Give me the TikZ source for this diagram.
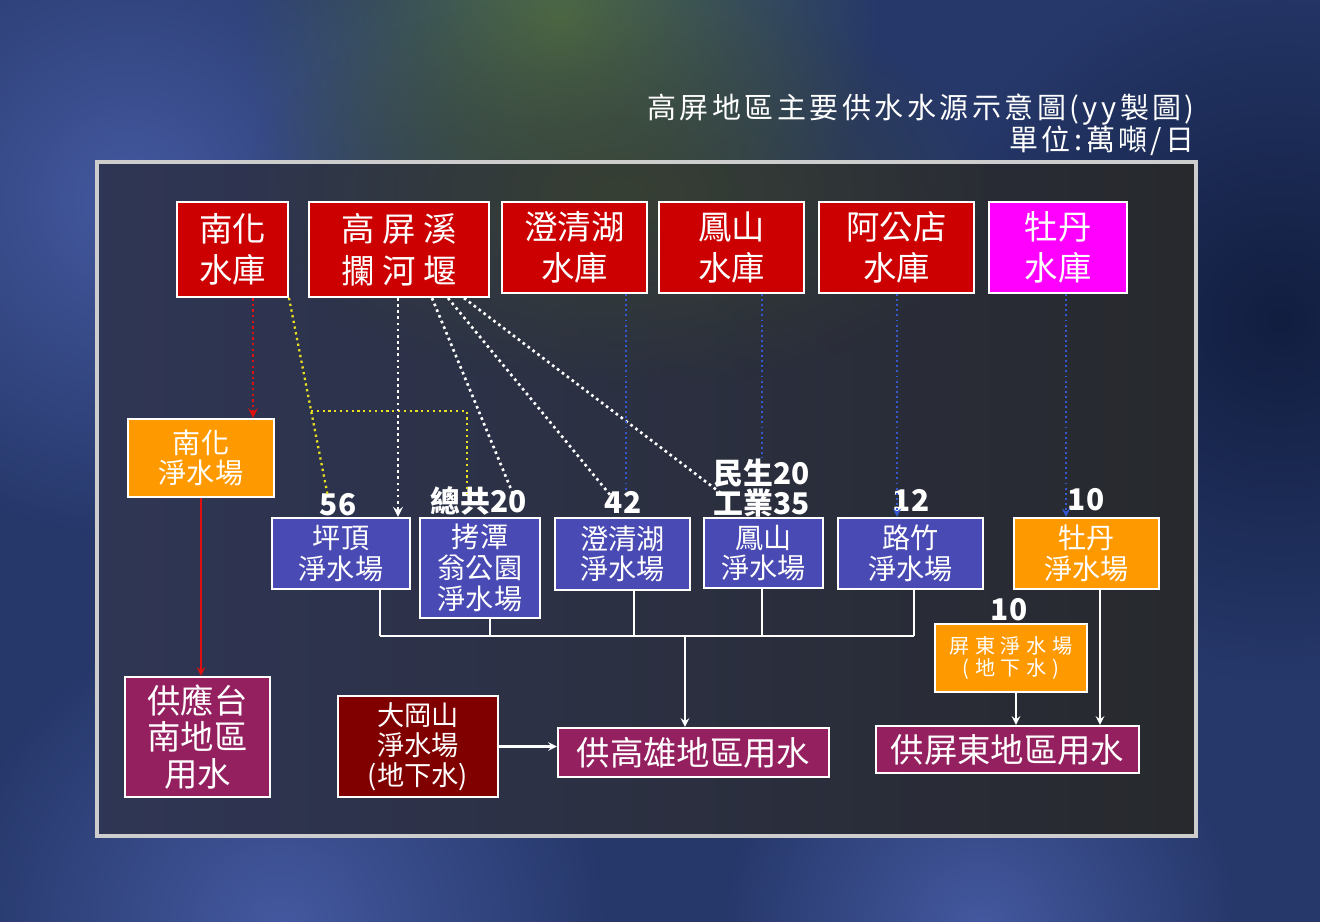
\documentclass[tikz,border=0pt]{standalone}
\usepackage{fontspec}
\setmainfont{Noto Sans CJK TC}
\newfontfamily\widecjk[LetterSpace=22]{Noto Sans CJK TC}
\newfontfamily\titlecjk[LetterSpace=12]{Noto Sans CJK TC}
\newfontfamily\gwcjk[LetterSpace=28]{Noto Sans CJK TC}
\usepackage{tikz}
\usetikzlibrary{shapes,arrows,positioning,calc,fadings}

\definecolor{bgbase}{HTML}{26386A}
\definecolor{bgblue}{HTML}{4459A0}
\definecolor{bggreen}{HTML}{4E6A45}
\definecolor{bgdark}{HTML}{121E40}
\definecolor{framel}{HTML}{2F3655}
\definecolor{framer}{HTML}{27292D}
\definecolor{framegreen}{HTML}{3A4430}
\definecolor{framegray}{HTML}{CDCDCD}
\definecolor{resred}{HTML}{CC0000}
\definecolor{resmag}{HTML}{FF00FF}
\definecolor{plantblue}{HTML}{4A4AB4}
\definecolor{plantorange}{HTML}{FF9900}
\definecolor{usepurple}{HTML}{952060}
\definecolor{dkred}{HTML}{800000}
\definecolor{rivred}{HTML}{E01010}
\definecolor{dotyellow}{HTML}{E8E020}
\definecolor{dotblue}{HTML}{3358D0}

\tikzfading[name=softblob, inner color=transparent!0, outer color=transparent!100]

\begin{document}
\begin{tikzpicture}[x=0.02cm, y=-0.02cm,
    box/.style={rectangle, draw=white, line width=1.2pt, text=white, align=center, inner sep=0pt},
    resbox/.style={box, fill=resred, font=\fontsize{19}{23}\selectfont, minimum height=1.82cm},
    plant/.style={box, fill=plantblue, font=\fontsize{16}{17.5}\selectfont, minimum height=1.42cm},
    useb/.style={box, fill=usepurple, font=\fontsize{19}{21}\selectfont},
    qty/.style={text=white, inner sep=0pt, font=\bfseries\fontsize{17}{16}\selectfont, align=center},
    arr/.style={->, >=stealth, white, line width=1.2pt},
    feed/.style={white, line width=1.2pt},
    wdots/.style={white, line width=1.5pt, dash pattern=on 1.5pt off 2pt, >=stealth},
    ydots/.style={dotyellow, line width=1.3pt, dash pattern=on 1.3pt off 2pt},
    bdots/.style={dotblue, line width=1.1pt, dash pattern=on 1.1pt off 1.8pt, >=stealth},
    rdots/.style={rivred, line width=1.4pt, dash pattern=on 1.4pt off 1.8pt, >=stealth}
]
\useasboundingbox (0,0) rectangle (1320,922);

% background
\fill[bgbase] (0,0) rectangle (1320,922);
\fill[bgblue, path fading=softblob] (130,200) circle (340);
\fill[bggreen, path fading=softblob] (560,20) circle (320);
\fill[bgdark, path fading=softblob] (1280,320) circle (360);
\fill[bgblue, path fading=softblob] (280,930) circle (330);
\fill[bgblue, path fading=softblob] (980,930) circle (260);

% frame
\shade[left color=framel, right color=framer] (97,162) rectangle (1196,836);
\fill[framegreen, path fading=softblob, opacity=0.8] (620,190) ellipse (380 and 200);
\draw[framegray, line width=2.3pt] (97,162) rectangle (1196,836);

% title
\node[anchor=east, text=white, font=\titlecjk\fontsize{16.5}{18}\selectfont] (title) at (1201,110) {高屏地區主要供水水源示意圖(yy製圖)};
\node[anchor=east, text=white, font=\titlecjk\fontsize{16.5}{18}\selectfont] (unit) at (1201,141) {單位:萬噸/日};

% sources
\node[resbox, minimum width=2.22cm, minimum height=1.9cm] (nhres) at (232.5,249.5) {南化\\水庫};
\node[resbox, font=\widecjk\fontsize{19}{24}\selectfont, minimum width=3.6cm, minimum height=1.9cm] (kpweir) at (399,249.5) {高屏溪\\攔河堰};
\node[resbox, minimum width=2.9cm] (ccres) at (574.5,247.5) {澄清湖\\水庫};
\node[resbox, minimum width=2.9cm] (fsres) at (731.5,247.5) {鳳山\\水庫};
\node[resbox, minimum width=3.1cm] (agres) at (896.5,247.5) {阿公店\\水庫};
\node[resbox, fill=resmag, minimum width=2.76cm] (mdres) at (1058,247.5) {牡丹\\水庫};

% plants
\node[plant, fill=plantorange, minimum width=2.92cm, minimum height=1.56cm] (nhplant) at (201,458) {南化\\淨水場};
\node[plant, minimum width=2.76cm] (ptplant) at (341,553.5) {坪頂\\淨水場};
\node[plant, minimum width=2.4cm, minimum height=2cm] (ktplant) at (480,568) {拷潭\\翁公園\\淨水場};
\node[plant, minimum width=2.7cm, minimum height=1.44cm] (ccplant) at (622.5,554) {澄清湖\\淨水場};
\node[plant, minimum width=2.38cm, minimum height=1.4cm] (fsplant) at (763.5,553) {鳳山\\淨水場};
\node[plant, minimum width=2.9cm] (lzplant) at (910.5,553.5) {路竹\\淨水場};
\node[plant, fill=plantorange, minimum width=2.9cm] (mdplant) at (1086.5,553.5) {牡丹\\淨水場};
\node[plant, fill=plantorange, font=\gwcjk\fontsize{11.5}{12.5}\selectfont, minimum width=3.04cm, minimum height=1.36cm] (ptgw) at (1011,658) {屏東淨水場\\(地下水)};

% users
\node[useb, minimum width=2.9cm, minimum height=2.4cm] (tainan) at (197.5,737) {供應台\\南地區\\用水};
\node[box, fill=dkred, font=\fontsize{15.5}{17}\selectfont, minimum width=3.2cm, minimum height=2.02cm] (dgs) at (418,746.5) {大岡山\\淨水場\\(地下水)};
\node[useb, minimum width=5.42cm, minimum height=0.98cm] (ksuse) at (693.5,752.5) {供高雄地區用水};
\node[useb, minimum width=5.26cm, minimum height=0.94cm] (pduse) at (1007.5,749.5) {供屏東地區用水};

% quantities
\node[qty] (q56) at (338,505) {56};
\node[qty] (q20) at (479,501) {總共20};
\node[qty] (q42) at (623,502) {42};
\node[qty] (q55) at (762,488) {民生20\\工業35};
\node[qty] (q12) at (911,500) {12};
\node[qty] (q10a) at (1086,500) {10};
\node[qty] (q10b) at (1009,610) {10};

% columns and ends of the raw water lines
\coordinate (xnh) at (253,0);
\coordinate (xkp) at (398,0);
\coordinate (xk1) at (432,0);
\coordinate (xk2) at (448,0);
\coordinate (xk3) at (464,0);
\coordinate (xcc) at (626,0);
\coordinate (xfs) at (762,0);
\coordinate (xag) at (897,0);
\coordinate (xmd) at (1066,0);
\coordinate (t56) at (328,497);
\coordinate (yj) at (311,411);
\coordinate (yk) at (467,411);
\coordinate (t20y) at (467,494);
\coordinate (t20w) at (513,494);
\coordinate (t42) at (611,496);
\coordinate (tfs) at (722,494);

% raw water
\draw[rdots, ->] (xnh |- nhres.south) -- (xnh |- nhplant.north);
\draw[ydots] (nhres.south east) -- (t56);
\draw[ydots] (yj) -- (yk) -- (t20y);
\draw[wdots, ->] (xkp |- kpweir.south) -- (xkp |- ptplant.north);
\draw[wdots] (xk1 |- kpweir.south) -- (t20w);
\draw[wdots] (xk2 |- kpweir.south) -- (t42);
\draw[wdots] (xk3 |- kpweir.south) -- (tfs);
\draw[bdots] (xcc |- ccres.south) -- (xcc |- q42.north);
\draw[bdots] (xfs |- fsres.south) -- (xfs |- q55.north);
\draw[bdots, ->] (xag |- agres.south) -- (xag |- lzplant.north);
\draw[bdots, ->] (xmd |- mdres.south) -- (xmd |- mdplant.north);

% treated water
\draw[->, >=stealth, rivred, line width=1.2pt] (nhplant.south) -- (nhplant.south |- tainan.north);
\coordinate (bpt) at (380,636);
\coordinate (bkt) at (490,636);
\coordinate (bcc) at (634,636);
\coordinate (bfs) at (762,636);
\coordinate (blz) at (914,636);
\coordinate (bks) at (685,636);
\foreach \b/\n in {bpt/ptplant, bkt/ktplant, bcc/ccplant, bfs/fsplant, blz/lzplant}
    \draw[feed] (\b |- \n.south) -- (\b);
\draw[feed] (bpt) -- (blz);
\draw[arr] (bks) -- (bks |- ksuse.north);
\draw[arr] (dgs.east) -- (dgs.east -| ksuse.west);
\coordinate (xgw) at (1016,0);
\coordinate (xmp) at (1100,0);
\draw[arr] (xgw |- ptgw.south) -- (xgw |- pduse.north);
\draw[arr] (xmp |- mdplant.south) -- (xmp |- pduse.north);
\end{tikzpicture}
\end{document}
